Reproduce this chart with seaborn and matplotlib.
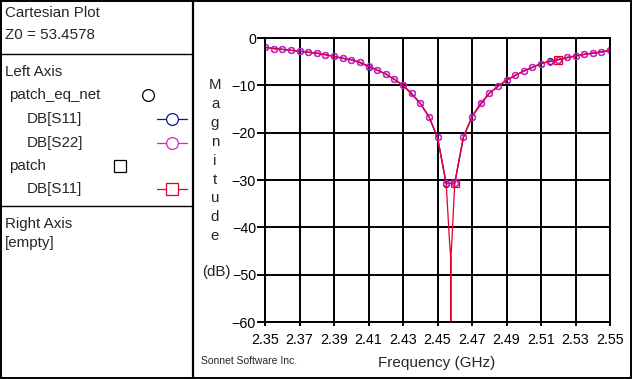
import matplotlib
matplotlib.use("Agg")
import matplotlib.pyplot as plt
import seaborn as sns
import pandas as pd

# ---------------- data ----------------
freq = [2.350, 2.355, 2.360, 2.365, 2.370, 2.375, 2.380, 2.385, 2.390, 2.395,
        2.400, 2.405, 2.410, 2.415, 2.420, 2.425, 2.430, 2.435, 2.440, 2.445,
        2.450, 2.455, 2.460, 2.465, 2.470, 2.475, 2.480, 2.485, 2.490, 2.495,
        2.500, 2.505, 2.510, 2.515, 2.520, 2.525, 2.530, 2.535, 2.540, 2.545,
        2.550]
eq_s22 = [-1.97, -2.26, -2.40, -2.60, -2.80, -3.00, -3.20, -3.50, -3.90, -4.30,
          -4.60, -5.10, -5.90, -6.80, -7.60, -8.70, -10.0, -11.7, -13.8, -16.6,
          -21.0, -30.6, -30.6, -21.0, -16.6, -13.8, -11.7, -10.2, -8.90, -7.90,
          -7.00, -6.20, -5.40, -5.00, -4.60, -4.10, -3.80, -3.45, -3.20, -3.00,
          -2.60]
eq_s11 = [-1.97, -2.26, -2.40, -2.60, -2.80, -3.00, -3.20, -3.50, -3.90, -4.30,
          -4.60, -5.10, -6.10, -6.80, -7.60, -8.70, -10.0, -11.7, -13.8, -16.6,
          -21.0, -30.8, -30.7, -21.0, -16.6, -13.8, -11.7, -10.2, -8.90, -7.90,
          -7.00, -6.20, -5.40, -4.90, -4.60, -4.10, -3.80, -3.45, -3.20, -3.00,
          -2.60]
patch_freq = [2.350, 2.360, 2.370, 2.380, 2.390, 2.400, 2.410, 2.420, 2.430, 2.440,
              2.445, 2.450, 2.455, 2.4569, 2.4576, 2.45765, 2.45775, 2.4578, 2.4584,
              2.460, 2.465, 2.470, 2.480, 2.490, 2.500, 2.510, 2.520, 2.530, 2.540,
              2.550]
patch_s11 = [-1.97, -2.40, -2.80, -3.20, -3.90, -4.60, -5.90, -7.60, -10.0, -13.8,
             -16.6, -21.0, -30.6, -42.5, -46.0, -90.0, -90.0, -46.0, -42.5,
             -30.6, -21.0, -16.6, -11.7, -8.90, -7.00, -5.40, -4.60, -3.80, -3.20,
             -2.60]
patch_marker_freqs = [2.460, 2.520]

x_ticks = [2.35, 2.37, 2.39, 2.41, 2.43, 2.45, 2.47, 2.49, 2.51, 2.53, 2.55]
x_tick_labels = ["2.35", "2.37", "2.39", "2.41", "2.43", "2.45", "2.47", "2.49",
                 "2.51", "2.53", "2.55"]
y_ticks = [0, -10, -20, -30, -40, -50, -60]

eq_df = pd.DataFrame({"freq": freq, "s11": eq_s11, "s22": eq_s22})
patch_df = pd.DataFrame({"freq": patch_freq, "s11": patch_s11})

# ---------------- style ----------------
sns.set_style("white")
plt.rcParams["font.family"] = ["Liberation Sans", "DejaVu Sans"]

W, H = 632, 379
fig = plt.figure(figsize=(W / 100, H / 100), dpi=100)

BLUE = "#1010a0"
MAG = "#e020d0"
RED = "#e0002a"

# plot axes in pixel placement
L, R, T, B = 265, 610, 38, 322
ax = fig.add_axes([L / W, 1 - B / H, (R - L) / W, (B - T) / H])
ax.set_facecolor("white")

sns.lineplot(data=eq_df, x="freq", y="s11", ax=ax, color=BLUE, lw=0.9,
             marker="o", markersize=4.3, markerfacecolor="none",
             markeredgecolor=BLUE, markeredgewidth=0.9,
             sort=False, estimator=None)
sns.lineplot(data=eq_df, x="freq", y="s22", ax=ax, color=MAG, lw=0.9,
             marker="o", markersize=4.3, markerfacecolor="none",
             markeredgecolor=MAG, markeredgewidth=0.9,
             sort=False, estimator=None)
mark_idx = [patch_freq.index(f) for f in patch_marker_freqs]
sns.lineplot(data=patch_df, x="freq", y="s11", ax=ax, color=RED, lw=0.9,
             marker="s", markersize=5.2, markerfacecolor="none",
             markeredgecolor=RED, markeredgewidth=0.9, markevery=mark_idx,
             sort=False, estimator=None)

ax.set_xlim(2.35, 2.55)
ax.set_ylim(-60, 0)
ax.set_xticks(x_ticks)
ax.set_xticklabels(x_tick_labels)
ax.set_yticks(y_ticks)
ax.grid(True, color="black", lw=1.4)
ax.set_axisbelow(True)
for s in ax.spines.values():
    s.set_color("black")
    s.set_linewidth(1.4)
ax.tick_params(axis="y", direction="out", length=5.5, width=1.4, pad=1,
               labelsize=10.3, left=True, colors="black")
ax.tick_params(axis="x", direction="out", length=3, width=1.4, pad=5,
               labelsize=10.3, bottom=True, colors="black")
ax.set_xlabel("")
ax.set_ylabel("")

# ---------------- overlay (panel, labels) ----------------
ov = fig.add_axes([0, 0, 1, 1], facecolor="none")
ov.set_xlim(0, W)
ov.set_ylim(H, 0)
ov.axis("off")

# borders
ov.plot([0.7, W - 0.7, W - 0.7, 0.7, 0.7], [0.7, 0.7, H - 0.9, H - 0.9, 0.7],
        color="black", lw=1.4, solid_joinstyle="miter")
ov.plot([192.5, 192.5], [0, H], color="black", lw=1.6)
ov.plot([0, 192.5], [53.5, 53.5], color="black", lw=1.0)
ov.plot([0, 192.5], [205.5, 205.5], color="black", lw=1.0)

fs = 10.9
ov.text(5, 13, "Cartesian Plot", fontsize=fs, va="center", ha="left")
ov.text(5, 35, "Z0 = 53.4578", fontsize=fs, va="center", ha="left")
ov.text(5, 72, "Left Axis", fontsize=fs, va="center", ha="left")
ov.text(9, 95, "patch_eq_net", fontsize=fs, va="center", ha="left")
ov.text(27, 119, "DB[S11]", fontsize=fs, va="center", ha="left")
ov.text(27, 143, "DB[S22]", fontsize=fs, va="center", ha="left")
ov.text(9, 166, "patch", fontsize=fs, va="center", ha="left")
ov.text(27, 189, "DB[S11]", fontsize=fs, va="center", ha="left")
ov.text(5, 224, "Right Axis", fontsize=fs, va="center", ha="left")
ov.text(5, 243, "[empty]", fontsize=fs, va="center", ha="left")

# legend samples
ov.plot([148], [95], marker="o", markersize=8.5, mfc="none", mec="black", mew=0.9)
ov.plot([157, 187], [119, 119], color=BLUE, lw=0.9)
ov.plot([172], [119], marker="o", markersize=8.5, mfc="white", mec=BLUE, mew=0.9)
ov.plot([157, 187], [143, 143], color=MAG, lw=0.9)
ov.plot([172], [143], marker="o", markersize=8.5, mfc="white", mec=MAG, mew=0.9)
ov.plot([120], [166], marker="s", markersize=8.5, mfc="none", mec="black", mew=0.9)
ov.plot([157, 187], [189, 189], color=RED, lw=0.9)
ov.plot([172], [189], marker="s", markersize=8.5, mfc="white", mec=RED, mew=0.9)

# vertical stacked y label
for i, ch in enumerate("Magnitude"):
    ov.text(215, 85 + i * 18.9, ch, fontsize=10.8, ha="center", va="center")
ov.text(216, 272, "(dB)", fontsize=10.8, ha="center", va="center")

ov.text(437, 363, "Frequency (GHz)", fontsize=11, ha="center", va="center")
ov.text(201, 361, "Sonnet Software Inc.", fontsize=7.5, ha="left", va="center")

fig.savefig("out.png", dpi=100, facecolor="white")
